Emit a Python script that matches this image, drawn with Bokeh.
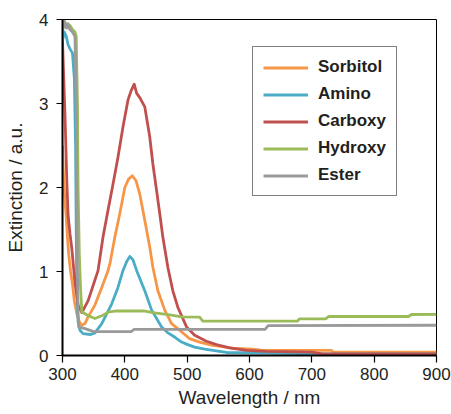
from bokeh.plotting import figure
from bokeh.models import Range1d, FixedTicker, Legend, LegendItem
from bokeh.embed import file_html
from bokeh.resources import INLINE

# ---- data ----
sorbitol_x = [300, 302, 304, 306, 308, 310, 313, 316, 319, 323, 327, 331, 336, 341, 352, 363, 373, 376,
              384, 392, 400, 406, 412, 418, 424, 432, 440, 445, 453, 464, 475, 485, 496, 504, 520, 541,
              573, 605, 621, 731, 735, 900]
sorbitol_y = [2.5, 2.05, 1.85, 1.65, 1.4, 1.2, 1.0, 0.85, 0.65, 0.5, 0.4, 0.36, 0.38, 0.46, 0.6, 0.81, 1.01, 1.09,
              1.41, 1.69, 2.0, 2.1, 2.14, 2.08, 1.92, 1.61, 1.29, 1.05, 0.77, 0.54, 0.38, 0.32, 0.25, 0.2, 0.16, 0.12,
              0.087, 0.075, 0.06, 0.06, 0.04, 0.04]

amino_x = [300, 303, 306, 309, 312, 316, 319, 321, 322, 323, 325, 328, 333, 345, 352, 363, 379, 389, 397,
           403, 408, 413, 419, 432, 443, 459, 469, 480, 491, 501, 512, 528, 552, 563, 620, 712, 900]
amino_y = [3.75, 3.85, 3.8, 3.7, 3.65, 3.6, 3.3, 2.5, 1.5, 0.8, 0.4, 0.3, 0.26, 0.25, 0.27, 0.38, 0.615, 0.81, 1.01,
           1.12, 1.18, 1.14, 1.01, 0.77, 0.54, 0.34, 0.27, 0.22, 0.16, 0.13, 0.1, 0.075, 0.05, 0.036, 0.03, 0.02, 0.02]

carboxy_x = [300, 302, 304, 307, 309, 312, 315, 320, 325, 331, 341, 349, 357, 365, 373, 381, 389, 397, 405,
             410, 415, 419, 424, 432, 440, 445, 451, 456, 461, 469, 477, 485, 493, 499, 512, 531, 547, 568,
             595, 627, 700, 717, 900]
carboxy_y = [3.75, 3.3, 2.86, 2.06, 1.67, 1.45, 1.27, 0.87, 0.6, 0.51, 0.65, 0.83, 1.01, 1.41, 1.73, 2.04, 2.36,
             2.72, 3.04, 3.15, 3.23, 3.12, 3.07, 2.96, 2.6, 2.28, 1.96, 1.69, 1.41, 1.05, 0.77, 0.575, 0.44, 0.34,
             0.24, 0.17, 0.13, 0.09, 0.06, 0.05, 0.04, 0.02, 0.02]

hydroxy_x = [300, 304, 308, 312, 316, 320, 322, 324, 325, 327, 329, 331, 340, 352, 365, 375, 387, 430, 445,
             475, 491, 520, 525, 677, 680, 722, 727, 855, 860, 900]
hydroxy_y = [3.9, 3.97, 3.9, 3.93, 3.88, 3.85, 3.8, 3.0, 2.0, 1.2, 0.8, 0.52, 0.48, 0.44, 0.48, 0.52, 0.53, 0.53,
             0.51, 0.48, 0.46, 0.456, 0.41, 0.41, 0.437, 0.437, 0.464, 0.464, 0.488, 0.49]

ester_x = [300, 303, 306, 309, 312, 316, 320, 322, 323, 324, 325, 326, 336, 350, 410, 415, 625, 630, 900]
ester_y = [3.85, 3.98, 3.9, 3.95, 3.88, 3.85, 3.8, 3.0, 2.0, 1.0, 0.5, 0.34, 0.32, 0.285, 0.285, 0.31, 0.31,
           0.355, 0.36]

names = ["Sorbitol", "Amino", "Carboxy", "Hydroxy", "Ester"]
colors = ["#F79646", "#4BACC6", "#C0504D", "#9BBB59", "#9A9A9A"]
x_ticks = [300, 400, 500, 600, 700, 800, 900]
y_ticks = [0, 1, 2, 3, 4]

FONT = "Liberation Sans"
TXT = "#231F20"

p = figure(width=451, height=414, output_backend="svg", toolbar_location=None,
           x_range=Range1d(300, 900), y_range=Range1d(0, 4),
           min_border_left=62, min_border_right=15, min_border_top=19, min_border_bottom=59)
p.xgrid.visible = False
p.ygrid.visible = False
p.outline_line_color = "black"
p.outline_line_width = 1
p.background_fill_color = "white"

series = [(sorbitol_x, sorbitol_y), (amino_x, amino_y), (carboxy_x, carboxy_y),
          (hydroxy_x, hydroxy_y), (ester_x, ester_y)]
items = []
for (xs, ys), name, c in zip(series, names, colors):
    r = p.line(xs, ys, line_color=c, line_width=2.8, line_join="round")
    items.append(LegendItem(label=name, renderers=[r]))

for ax, ticks in ((p.xaxis, x_ticks), (p.yaxis, y_ticks)):
    ax.ticker = FixedTicker(ticks=ticks)
    ax.minor_tick_line_color = None
    ax.major_tick_in = 0
    ax.axis_line_width = 2
    ax.axis_line_color = "black"
    ax.major_tick_line_color = "black"
    ax.major_tick_line_width = 1.2
    ax.major_label_text_font = FONT
    ax.major_label_text_font_size = "17px"
    ax.major_label_text_color = TXT
    ax.axis_label_text_font = FONT
    ax.axis_label_text_font_size = "19px"
    ax.axis_label_text_font_style = "normal"
    ax.axis_label_text_color = TXT

p.xaxis.axis_label = "Wavelength / nm"
p.yaxis.axis_label = "Extinction / a.u."
p.xaxis.major_tick_out = 7
p.yaxis.major_tick_out = 6
p.xaxis.major_label_standoff = 5
p.yaxis.major_label_standoff = 8
p.xaxis.axis_label_standoff = 4
p.yaxis.axis_label_standoff = 10

legend = Legend(items=items, location=(190, 159))
legend.label_text_font = FONT
legend.label_text_font_style = "bold"
legend.label_text_font_size = "17px"
legend.label_text_color = TXT
legend.glyph_width = 45
legend.glyph_height = 19
legend.label_height = 19
legend.label_width = 64
legend.label_standoff = 10
legend.spacing = 7
legend.padding = 10
legend.margin = 0
legend.border_line_color = "black"
legend.border_line_width = 1
legend.background_fill_alpha = 1.0
p.add_layout(legend, "center")

open("out.html", "w").write(file_html(p, INLINE))
